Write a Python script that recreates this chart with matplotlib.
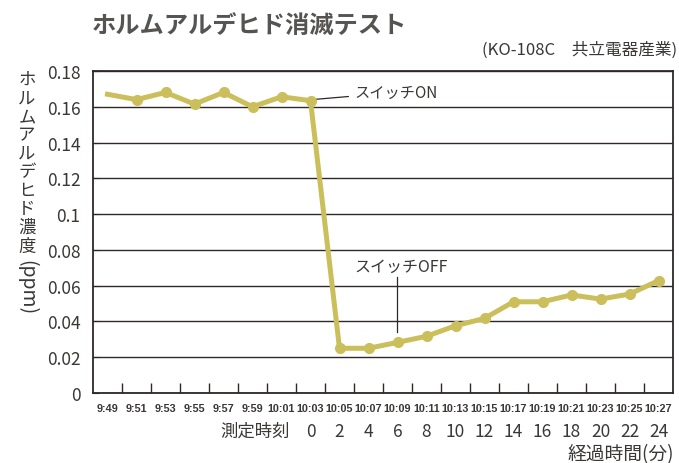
import numpy as np
import matplotlib
matplotlib.use("Agg")
import matplotlib.pyplot as plt
import matplotlib.transforms as mtransforms

plt.rcParams['font.family'] = ['Noto Sans CJK JP', 'DejaVu Sans']

times = ['9:49', '9:51', '9:53', '9:55', '9:57', '9:59', '10:01', '10:03', '10:05', '10:07',
         '10:09', '10:11', '10:13', '10:15', '10:17', '10:19', '10:21', '10:23', '10:25', '10:27']
conc = [0.167, 0.164, 0.168, 0.1615, 0.168, 0.160, 0.1656, 0.1634, 0.025, 0.025,
        0.0283, 0.0317, 0.0376, 0.0417, 0.051, 0.051, 0.0548, 0.0525, 0.0553, 0.0628]
elapsed = ['0', '2', '4', '6', '8', '10', '12', '14', '16', '18', '20', '22', '24']
elapsed_start = 7   # 10:03 -> 0 min
on_idx = 7
off_idx = 10

line_col = '#cbbf5c'
txt_col = '#3a3735'
dark = '#2e2826'

W, H = 679, 464
fig = plt.figure(figsize=(W / 100, H / 100), dpi=100)
ax = fig.add_axes([93 / W, 1 - 394 / H, 580 / W, 322 / H])

x = np.arange(len(times))
ax.plot(x, conc, color=line_col, lw=3.6, zorder=3, solid_joinstyle='round')
ax.plot(x[1:], conc[1:], 'o', color=line_col, ms=7, zorder=4)

ax.set_xlim(-0.5, len(times) - 0.5)
ax.set_ylim(0, 0.18)
yt = np.arange(0, 0.181, 0.02)
ax.set_yticks(yt)
ax.set_yticklabels(['0' if v == 0 else ('0.1' if abs(v - 0.1) < 1e-9 else f'{v:.2f}') for v in yt])
ax.yaxis.grid(True, color=dark, lw=1.0)
ax.set_axisbelow(True)
for s in ax.spines.values():
    s.set_color(dark)
    s.set_linewidth(1.3)

ax.set_xticks(x)
ax.set_xticklabels(times, family=['Liberation Sans', 'DejaVu Sans'],
                   fontweight='bold', fontsize=7.8, color=txt_col)
ax.tick_params(axis='x', which='major', length=0, pad=7)
ax.set_xticks(x[:-1] + 0.5, minor=True)
ax.tick_params(axis='x', which='minor', direction='in', length=7, color=dark, width=1)
ax.tick_params(axis='y', direction='in', length=4, color=dark, labelsize=12.5,
               labelcolor=txt_col, pad=9)

# elapsed minutes row
tr = mtransforms.blended_transform_factory(ax.transData, ax.transAxes)
for i, lab in enumerate(elapsed):
    ax.text(elapsed_start + i, -0.118, lab, transform=tr, ha='center', va='center',
            fontsize=12.5, color=txt_col)
fig.text(290 / W, 1 - 432 / H, '測定時刻', ha='right', va='center', fontsize=12.5, color=txt_col)
fig.text(674 / W, 1 - 455 / H, '経過時間(分)', ha='right', va='center', fontsize=13.5, color=txt_col)

# annotations
ax.annotate('スイッチON', xy=(on_idx + 0.2, conc[on_idx] + 0.0008), xytext=(8.5, 0.168),
            fontsize=11, color=txt_col, va='center', ha='left',
            arrowprops=dict(arrowstyle='-', color=dark, lw=0.9, shrinkA=2, shrinkB=0))
ax.annotate('スイッチOFF', xy=(off_idx - 0.02, 0.034), xytext=(8.5, 0.071),
            fontsize=11.5, color=txt_col, va='center', ha='left')
ax.plot([off_idx - 0.02, off_idx - 0.02], [0.034, 0.065], color=dark, lw=0.9)

# title and maker
fig.text(92 / W, 1 - 27 / H, 'ホルムアルデヒド消滅テスト', ha='left', va='center',
         fontsize=17.5, fontweight='bold', color='#555453')
fig.text(677 / W, 1 - 50 / H, '(KO-108C\u3000共立電器産業)', ha='right', va='center',
         fontsize=12, color=txt_col)

# vertical y label: upright kana, rotated (ppm)
ylab = 'ホルムアルデヒド濃度'
y0, step = 80, 18.5
for k, ch in enumerate(ylab):
    fig.text(27 / W, 1 - (y0 + k * step) / H, ch, ha='center', va='center',
             fontsize=12.5, color=txt_col)
fig.text(27 / W, 1 - 288 / H, '(ppm)', ha='center', va='center', rotation=-90,
         fontsize=14, color=txt_col)

fig.savefig('out.png', dpi=100)
